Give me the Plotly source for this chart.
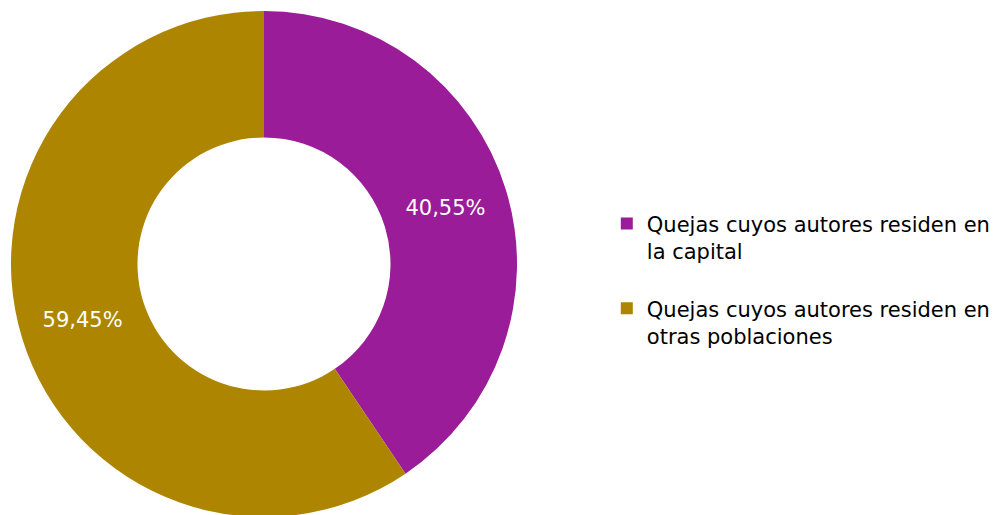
import plotly.graph_objects as go

labels = ["Quejas cuyos autores residen en<br>la capital<br> ",
          "Quejas cuyos autores residen en<br>otras poblaciones"]
values = [40.55, 59.45]
colors = ["#9A1C98", "#AD8500"]

W, H = 998, 515
fig = go.Figure(go.Pie(
    labels=labels, values=values, hole=0.5, sort=False, direction="clockwise",
    rotation=0, marker=dict(colors=colors, line=dict(color="white", width=0)),
    texttemplate="%{percent:.2%}", textposition="inside",
    insidetextorientation="horizontal",
    textfont=dict(color="white", size=21, family="DejaVu Sans"),
    domain=dict(x=[2 / W, 510 / W], y=[0, 1]),
    hoverinfo="percent",
))
fig.update_layout(
    width=W, height=H, separators=",.",
    margin=dict(l=0, r=0, t=3, b=6),
    paper_bgcolor="white", plot_bgcolor="white",
    font=dict(family="DejaVu Sans", size=21, color="#000000"),
    legend=dict(x=0.600, y=0.62, xanchor="left", yanchor="top", valign="top",
                font=dict(size=21), itemsizing="constant"),
    showlegend=True,
)
fig.write_html("out.html")
